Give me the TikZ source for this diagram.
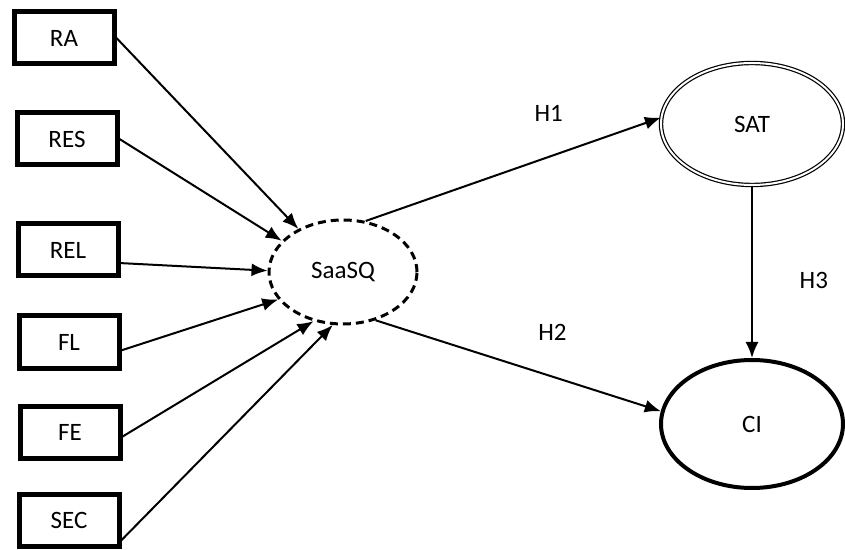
\documentclass[tikz,border=0pt]{standalone}
\usepackage{fontspec}
\setmainfont{Carlito}
\usetikzlibrary{shapes.geometric,arrows.meta}

\begin{document}
\begin{tikzpicture}[x=0.5pt, y=-0.5pt,
    every node/.style={font=\fontsize{12.5}{14}\selectfont},
    indicator/.style={draw, line width=2.5pt, minimum width=50pt, minimum height=26pt, inner sep=0pt},
    construct/.style={draw, ellipse, inner sep=0pt},
    path/.style={line width=1pt, -{Latex[length=8pt,width=6.5pt]}}]
    \useasboundingbox (0,0) rectangle (845,550);
    \node [indicator] (ra)  at (64,38)  {RA};
    \node [indicator] (res) at (67,139) {RES};
    \node [indicator] (rel) at (68,250) {REL};
    \node [indicator] (fl)  at (69,342) {FL};
    \node [indicator] (fe)  at (70,432) {FE};
    \node [indicator] (sec) at (69,520) {SEC};
    \node [construct, dashed, line width=1.5pt, dash pattern=on 4pt off 2.5pt,
           minimum width=74pt, minimum height=52pt] (saasq) at (343,272) {SaaSQ};
    \node [construct, double, double distance=1pt, line width=0.6pt,
           minimum width=91pt, minimum height=61pt] (sat) at (752,124) {SAT};
    \node [construct, line width=2pt,
           minimum width=91pt, minimum height=64pt] (ci) at (752,424) {CI};
    % formative paths into SaaSQ
    \draw [path] (ra.east)  -- (saasq.136);
    \draw [path] (res.east) -- (saasq.153);
    \draw [path] (rel.-14)  -- (saasq.179);
    \draw [path] (fl.-9)    -- (saasq.203);
    \draw [path] (fe.-5)    -- (saasq.239);
    \draw [path] (sec.-21)  -- (saasq.259);
    % hypotheses
    \draw [path] (saasq.66)  -- node [pos=0.62, above=14pt] (h1) {H1} (sat.176);
    \draw [path] (saasq.304) -- node [pos=0.62, above=14pt] (h2) {H2} (ci.172);
    \draw [path] (sat.south) -- node [pos=0.55, right=20pt] (h3) {H3} (ci.north);
\end{tikzpicture}
\end{document}
